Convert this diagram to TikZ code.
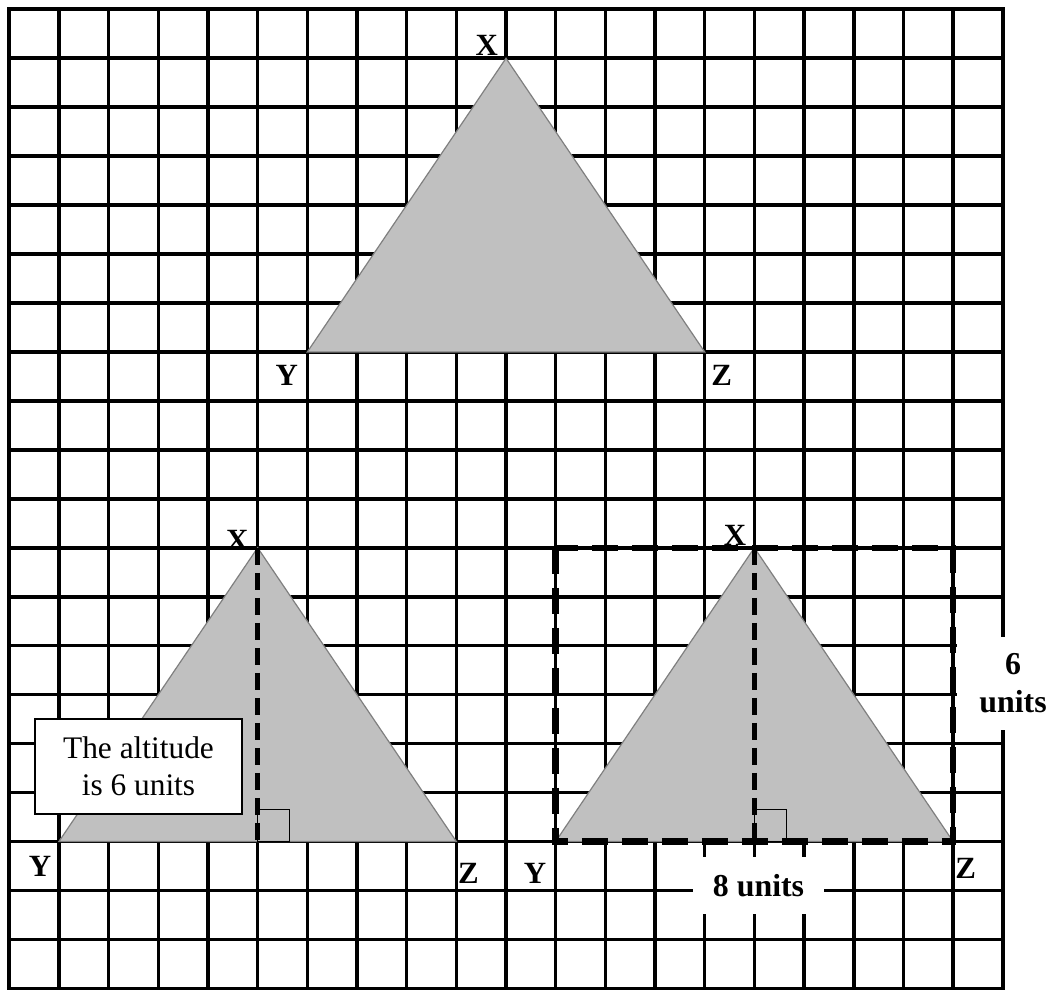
\documentclass[tikz,border=0pt]{standalone}
\usepackage{fontspec}
\setmainfont{Liberation Serif}
\definecolor{triFill}{HTML}{C0C0C0}
\definecolor{triEdge}{HTML}{7F7F7F}
\begin{document}
\begin{tikzpicture}[x=49.67bp, y=-48.95bp,
  gridline/.style={line width=3.6bp, black, line cap=rect},
  tri/.style={fill=triFill, draw=triEdge, line width=1.2bp},
  altline/.style={line width=4.5bp, dash pattern=on 17bp off 8bp},
  boxline/.style={line width=6.5bp, dash pattern=on 26bp off 14bp},
  rightang/.style={line width=1.6bp},
  vlabel/.style={font=\bfseries\fontsize{31}{31}\selectfont, inner sep=0pt},
  unitlabel/.style={fill=white, inner sep=0pt, align=center, font=\bfseries\fontsize{32}{38}\selectfont},
  notebox/.style={draw, line width=1.6bp, fill=white, inner sep=0pt, align=center, minimum width=207bp, minimum height=95bp, font=\fontsize{31.5}{37}\selectfont}
]
\useasboundingbox (-0.18724,-0.18999) rectangle (21.073,20.075);
% grid
\foreach \i in {0,...,20} {
  \draw[gridline] (\i,0) -- (\i,20);
  \draw[gridline] (0,\i) -- (20,\i);
}
% vertices
\coordinate (tX) at (10,1);
\coordinate (tY) at (6,7);
\coordinate (tZ) at (14,7);
\coordinate (lX) at (5,11);
\coordinate (lY) at (1,17);
\coordinate (lZ) at (9,17);
\coordinate (lF) at (5,17);
\coordinate (rX) at (15,11);
\coordinate (rY) at (11,17);
\coordinate (rZ) at (19,17);
\coordinate (rF) at (15,17);
\coordinate (rTL) at (11,11);
% triangles
\draw[tri] (tX) -- (tY) -- (tZ) -- cycle;
\draw[tri] (lX) -- (lY) -- (lZ) -- cycle;
\draw[tri] (rX) -- (rY) -- (rZ) -- cycle;
% altitudes
\draw[altline] (lX) -- (lF);
\draw[altline] (rX) -- (rF);
\draw[rightang] (lF) rectangle ++(32bp,32bp);
\draw[rightang] (rF) rectangle ++(32bp,32bp);
% dashed bounding rectangle
\draw[boxline] (rTL) rectangle (rZ);
% vertex labels
\node[vlabel] (ltX) at (9.612,0.729) {X};
\node[vlabel] (ltY) at (5.585,7.471) {Y};
\node[vlabel] (ltZ) at (14.343,7.471) {Z};
\node[vlabel] (llX) at (4.590,10.842) {X};
\node[vlabel] (llY) at (0.618,17.516) {Y};
\node[vlabel] (llZ) at (9.241,17.651) {Z};
\node[vlabel] (lrX) at (14.610,10.740) {X};
\node[vlabel] (lrY) at (10.584,17.651) {Y};
\node[vlabel] (lrZ) at (19.255,17.548) {Z};
% notes
\node[notebox] (note) at (2.601,15.469) {The altitude\\is 6 units};
\node[unitlabel, minimum width=131bp, minimum height=57bp] (eight) at (15.084,17.900) {8 units};
\node[unitlabel, minimum width=112bp, minimum height=93bp] (six) at (20.207,13.773) {6\\units};
\end{tikzpicture}
\end{document}
